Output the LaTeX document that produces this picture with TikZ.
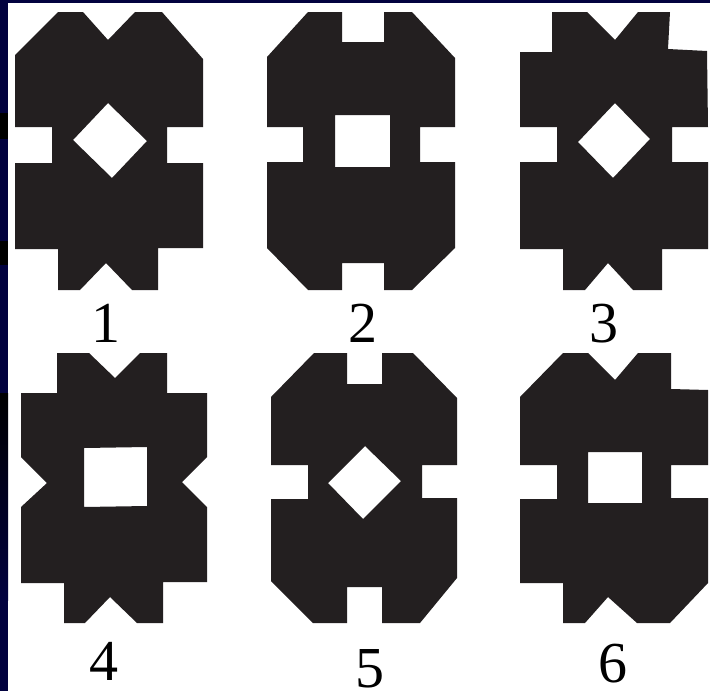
\documentclass[tikz,border=0pt]{standalone}
\usepackage{fontspec}
\setmainfont{Liberation Serif}
\begin{document}
\begin{tikzpicture}[x=1pt,y=-1pt,
  tile/.style={fill=shapeblack,even odd rule},
  lab/.style={anchor=base,inner sep=0pt,font=\fontsize{58}{60}\selectfont,text=black}]
\definecolor{shapeblack}{HTML}{231F20}
\definecolor{navy}{HTML}{02023F}
\useasboundingbox (0,0) rectangle (710,691);
\fill[white] (0,0) rectangle (710,691);
% frame
\fill[navy] (0,0) rectangle (710,2.5);
\fill[navy] (0,0) rectangle (8,691);
\fill[black] (0,113) rectangle (8,139);
\fill[black] (0,241) rectangle (8,265);
\shade[top color=black,bottom color=navy] (0,393) rectangle (8,600);
% shape 1
\fill[tile] (58,12) -- (83,12) -- (108,40) -- (135,12) -- (162,12) -- (203,59) -- (203,127) -- (167,127) -- (167,163) -- (203,163) -- (203,248) -- (158,248) -- (158,290) -- (132,290) -- (106,263) -- (80,290) -- (58,290) -- (58,249) -- (15,249) -- (15,163) -- (52,163) -- (52,127) -- (15,127) -- (15,55) -- cycle
  (108,103) -- (147,141) -- (112,178) -- (73,140) -- cycle;
% shape 2
\fill[tile] (308,12) -- (342,12) -- (342,42) -- (384,42) -- (384,12) -- (412,12) -- (455,58) -- (455,127) -- (420,127) -- (420,162) -- (455,162) -- (455,248) -- (412,290) -- (384,290) -- (384,263) -- (342,263) -- (342,290) -- (308,290) -- (267,248) -- (267,162) -- (303,162) -- (303,127) -- (267,127) -- (267,57) -- cycle
  (335,115) -- (390,115) -- (390,167) -- (335,167) -- cycle;
% shape 3
\fill[tile] (552,12) -- (587,12) -- (615,40) -- (638,12) -- (670,12) -- (668,49) -- (707,51) -- (708,127) -- (672,127) -- (672,162) -- (708,162) -- (708,249) -- (662,249) -- (662,290) -- (633,290) -- (608,263) -- (585,290) -- (563,290) -- (563,249) -- (520,249) -- (520,162) -- (557,162) -- (557,127) -- (520,127) -- (520,52) -- (552,52) -- cycle
  (615,103) -- (650,139) -- (613,178) -- (578,142) -- cycle;
% shape 4
\fill[tile] (57,353) -- (89,353) -- (115,378) -- (140,353) -- (167,353) -- (167,393) -- (207,393) -- (207,457) -- (182,482) -- (207,507) -- (207,582) -- (163,582) -- (163,623) -- (137,623) -- (110,597) -- (85,623) -- (64,623) -- (64,583) -- (21,583) -- (21,507) -- (47,483) -- (21,457) -- (21,393) -- (57,393) -- cycle
  (84,448) -- (147,447) -- (147,506) -- (84,507) -- cycle;
% shape 5
\fill[tile] (314,353) -- (347,353) -- (347,384) -- (382,384) -- (382,353) -- (413,353) -- (457,398) -- (457,465) -- (422,465) -- (422,498) -- (457,498) -- (457,578) -- (420,623) -- (382,623) -- (382,587) -- (347,587) -- (347,623) -- (313,623) -- (271,581) -- (271,499) -- (308,499) -- (308,465) -- (271,465) -- (271,397) -- cycle
  (365,446) -- (401,481) -- (363,519) -- (328,483) -- cycle;
% shape 6
\fill[tile] (563,353) -- (588,353) -- (615,380) -- (638,353) -- (671,353) -- (671,389) -- (708,390) -- (708,465) -- (671,465) -- (671,498) -- (708,498) -- (708,583) -- (670,623) -- (637,623) -- (608,597) -- (585,623) -- (563,623) -- (563,583) -- (520,583) -- (520,499) -- (557,499) -- (557,465) -- (520,465) -- (520,397) -- cycle
  (588,452) -- (642,452) -- (642,503) -- (588,503) -- cycle;
% labels
\node[lab] (lab1) at (106,342) {1};
\node[lab] (lab2) at (363,342) {2};
\node[lab] (lab3) at (604,342) {3};
\node[lab] (lab4) at (104,680) {4};
\node[lab] (lab5) at (370,687) {5};
\node[lab] (lab6) at (613,682) {6};
\end{tikzpicture}
\end{document}
